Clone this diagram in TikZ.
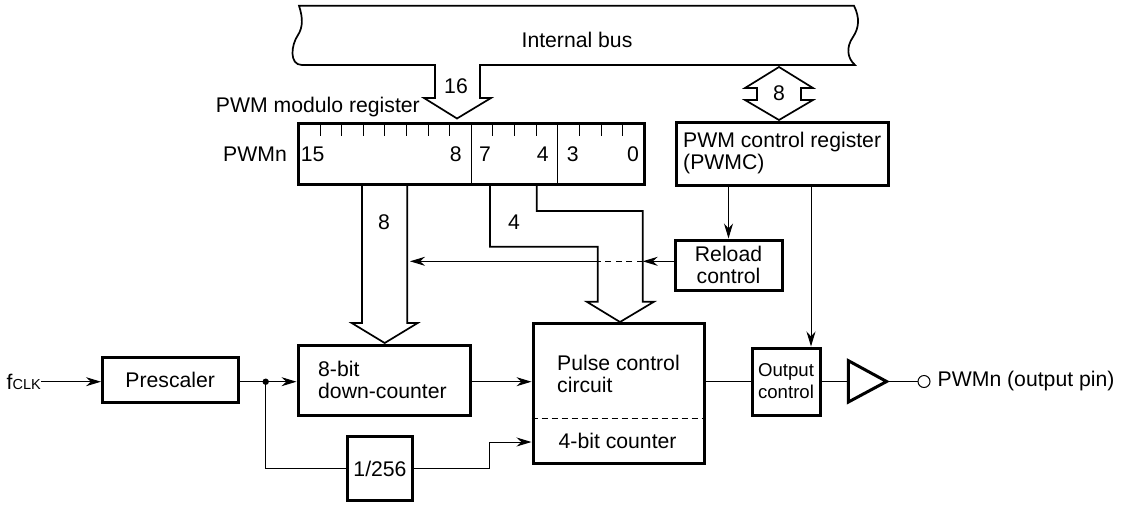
\documentclass[tikz,border=0pt]{standalone}
\usepackage{fontspec}
\setmainfont{Liberation Sans}
\usetikzlibrary{arrows.meta,positioning,calc}
\tikzset{
	blockbox/.style={draw,line width=3pt,inner sep=0pt},
	sigline/.style={draw,line width=1pt},
	sigarrow/.style={sigline,-{Stealth[length=15pt,width=9pt]}},
	busline/.style={draw,line width=1.7pt,line join=miter},
	plaintext/.style={inner sep=0pt,font=\fontsize{21.2}{22}\selectfont},
	smalltext/.style={inner sep=0pt,font=\fontsize{18.6}{22}\selectfont,align=center}
}
\begin{document}
\begin{tikzpicture}[x=1pt,y=-1pt]
		\useasboundingbox (0,0) rectangle (1121,504);
		% internal bus
		\draw[busline] (299,5.7) .. controls (303,18) and (303,27) .. (298,35) .. controls (291,45) and (289,65) .. (302,65) -- (435,65) -- (435,98) -- (424,98) -- (457,118.5) -- (491,98) -- (480,98) -- (480,65) -- (855,65) .. controls (847,58) and (846,47) .. (853,37) .. controls (859,28) and (860,18) .. (854,5.7) -- cycle;
		\node[plaintext] (busname) at (577,40) {Internal bus};
		\node[plaintext] (width16) at (456,86) {16};
		% draw blocks
		\node[blockbox,minimum width=346.5pt,minimum height=60.5pt] (modreg) at (471.25,153.75) {};
		\node[blockbox,minimum width=212pt,minimum height=63pt] (pwmc) at (782,153.5) {};
		\node[blockbox,minimum width=107pt,minimum height=50pt,plaintext,align=center] (reload) at (728.5,265) {Reload\\control};
		\node[blockbox,minimum width=135.5pt,minimum height=45pt,plaintext] (prescaler) at (170.25,379.5) {Prescaler};
		\node[blockbox,minimum width=172pt,minimum height=69.3pt] (downcnt) at (384,380.35) {};
		\node[blockbox,minimum width=171.5pt,minimum height=140pt] (pulse) at (618.75,393) {};
		\node[blockbox,minimum width=65pt,minimum height=64pt,plaintext] (divider) at (380,468.7) {1/256};
		\node[blockbox,minimum width=68pt,minimum height=67pt,smalltext] (outctrl) at (786,381.5) {Output\\control};
		% register ticks and fields
		\foreach \x in {320,341.7,363,384.7,406,428,449.7,492.7,514,536,579,601,622.7}
		\draw[line width=1pt] (\x,124) -- (\x,136);
		\foreach \x in {471,557.7}
		\draw[line width=1pt] (\x,124) -- (\x,184);
		\foreach \x/\bit in {312.7/15,455.7/8,485/7,542.7/4,572.7/3,633/0}
		\node[plaintext] (bit\bit) at (\x,154) {\bit};
		\node[plaintext,anchor=east] (regname) at (287,154) {PWMn};
		\node[plaintext,anchor=east] (modname) at (420,107) {PWM modulo register};
		% block texts
		\node[plaintext,anchor=west,align=left] (pwmctext) at (683,153) {PWM control register\\(PWMC)};
		\node[plaintext,anchor=west,align=left] (downtext) at (318,380) {8-bit\\down-counter};
		\node[plaintext,anchor=west,align=left] (pulsetext) at (557,373.5) {Pulse control\\circuit};
		\node[plaintext] (cnttext) at (617.6,441) {4-bit counter};
		\draw[line width=1pt,dashed,dash pattern=on 6pt off 4pt] (pulse.west |- 0,418.7) -- (pulse.east |- 0,418.7);
		% data buses
		\draw[busline] (745,88) -- (757,88) -- (757,100) -- (745,100) -- (779,120) -- (813,100) -- (801,100) -- (801,88) -- (813,88) -- (779,67) -- cycle;
		\node[plaintext] (width8a) at (779,93.5) {8};
		\draw[busline] (362,184) -- (362,323) -- (351.7,323) -- (384.7,343) -- (417.7,323) -- (407.3,323) -- (407.3,184);
		\node[plaintext] (width8b) at (384,222) {8};
		\draw[busline] (536.7,184) -- (536.7,211) -- (642.7,211) -- (642.7,301.7) -- (654,301.7) -- (620,322) -- (586.7,301.7) -- (597.7,301.7) -- (597.7,246.7) -- (490,246.7) -- (490,184);
		\node[plaintext] (width4) at (514,222) {4};
		% reload signal
		\coordinate (reloadend) at (410,261.3);
		\coordinate (reloadin) at (reload.west |- reloadend);
		\coordinate (crossa) at (642.7,261.3);
		\coordinate (crossb) at (597.7,261.3);
		\draw[sigarrow] (reloadin) -- (crossa);
		\draw[sigline,dashed,dash pattern=on 6pt off 4.5pt] (crossa) -- (crossb);
		\draw[sigarrow] (crossb) -- (reloadend);
		\draw[sigarrow] (pwmc.south -| reload.north) -- (reload.north);
		\coordinate (outdrop) at (811,185);
		\draw[sigarrow] (outdrop) -- (outdrop |- outctrl.north);
		% clock path
		\node[inner sep=0pt,anchor=east] (fclk) at (41,381.7) {\fontsize{21.2}{22}\selectfont f\fontsize{14.5}{15}\selectfont CLK};
		\coordinate (branch) at (265.7,381.7);
		\draw[sigarrow] (fclk.east) -- (fclk.east -| prescaler.west);
		\draw[sigarrow] (prescaler.east |- branch) -- (branch -| downcnt.west);
		\fill (branch) circle (3.2pt);
		\draw[sigline] (branch) |- (divider.west);
		\draw[sigarrow] (divider.east) -- (489,468.7) |- (pulse.west |- 0,442);
		\draw[sigarrow] (downcnt.east |- branch) -- (branch -| pulse.west);
		% output path
		\coordinate (bufin) at (848.4,381.5);
		\coordinate (bufout) at (886.6,381.5);
		\node[draw,circle,line width=1pt,minimum size=12pt,inner sep=0pt] (pin) at (924,381.5) {};
		\node[plaintext,right=7pt of pin] (pinname) {PWMn (output pin)};
		\draw[sigline] (pulse.east |- outctrl.west) -- (outctrl.west);
		\draw[sigline] (outctrl.east) -- (bufin);
		\draw[line width=3pt,miter limit=10] (848.4,360.7) -- (886.6,381.5) -- (848.4,402) -- cycle;
		\draw[sigline] (bufout) -- (pin.west);
		\end{tikzpicture}
\end{document}
